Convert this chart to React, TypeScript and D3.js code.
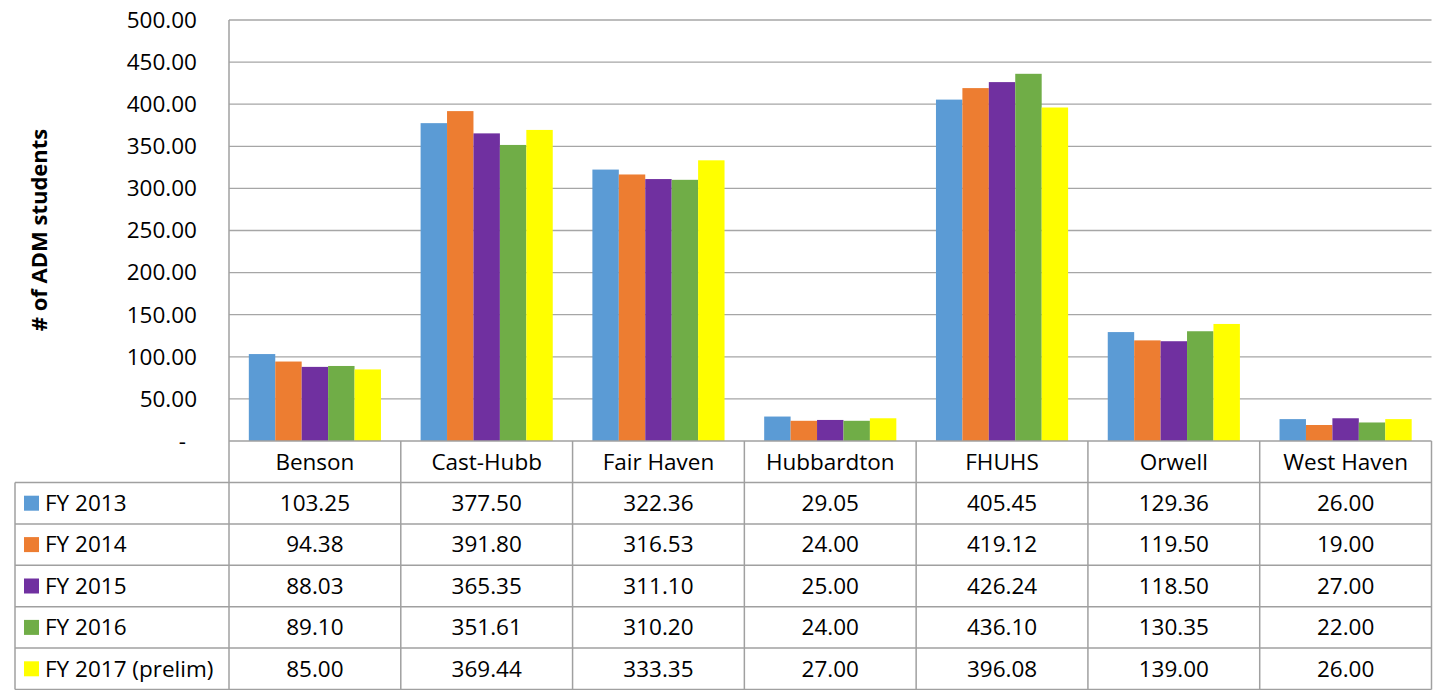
import React from "react";
import * as d3 from "d3";

const categories = ["Benson", "Cast-Hubb", "Fair Haven", "Hubbardton", "FHUHS", "Orwell", "West Haven"];
const seriesNames = ["FY 2013", "FY 2014", "FY 2015", "FY 2016", "FY 2017 (prelim)"];
const fy2013 = [103.25, 377.5, 322.36, 29.05, 405.45, 129.36, 26.0];
const fy2014 = [94.38, 391.8, 316.53, 24.0, 419.12, 119.5, 19.0];
const fy2015 = [88.03, 365.35, 311.1, 25.0, 426.24, 118.5, 27.0];
const fy2016 = [89.1, 351.61, 310.2, 24.0, 436.1, 130.35, 22.0];
const fy2017 = [85.0, 369.44, 333.35, 27.0, 396.08, 139.0, 26.0];
const seriesValues = [fy2013, fy2014, fy2015, fy2016, fy2017];
const colors = ["#5B9BD5", "#ED7D31", "#7030A0", "#70AD47", "#FFFF00"];
const yTicks = [0, 50, 100, 150, 200, 250, 300, 350, 400, 450, 500];
const yTickLabels = ["-", "50.00", "100.00", "150.00", "200.00", "250.00", "300.00", "350.00", "400.00", "450.00", "500.00"];
const axisTitle = "# of ADM students";

const W = 1439;
const H = 690;
const plotLeft = 229;
const plotRight = 1431.5;
const plotTop = 20;
const plotBottom = 441;
const tableLeft = 15;
const headerH = 41.5;
const rowH = 41.4;
const FONT = "'Open Sans', sans-serif";
const FS = 22.5;
const GRID = "#a6a6a6";
const BORDER = "#a0a0a0";

export default function App() {
  const x0 = d3.scaleBand<string>().domain(categories).range([plotLeft, plotRight]).paddingInner(0).paddingOuter(0);
  const x1 = d3.scaleBand<string>().domain(seriesNames).range([0, x0.bandwidth()]).paddingInner(0).paddingOuter(0.75);
  const y = d3.scaleLinear().domain([0, 500]).range([plotBottom, plotTop]);

  const rowTop = (i: number) => plotBottom + headerH + i * rowH;
  const tableBottom = rowTop(seriesNames.length);

  return (
    <svg width={W} height={H} style={{ position: "absolute", left: 0, top: 0, display: "block", background: "#fff" }} fontFamily={FONT}>
      {/* gridlines */}
      {yTicks.filter((t) => t > 0).map((t) => (
        <line key={t} x1={plotLeft} x2={plotRight} y1={y(t)} y2={y(t)} stroke={GRID} strokeWidth={1.3} />
      ))}
      {/* bars */}
      {seriesNames.map((s, si) =>
        categories.map((c, ci) => {
          const v = seriesValues[si][ci];
          return (
            <rect key={s + c} x={(x0(c) as number) + (x1(s) as number)} y={y(v)} width={x1.bandwidth()} height={y(0) - y(v)} fill={colors[si]} />
          );
        })
      )}
      {/* y tick labels */}
      {yTicks.map((t, i) => (
        <text key={t} x={t === 0 ? 186 : 197} y={y(t)} dy="0.35em" textAnchor="end" fontSize={FS} fill="#000">
          {yTickLabels[i]}
        </text>
      ))}
      {/* axis title */}
      <text transform={`translate(${39},${230}) rotate(-90)`} textAnchor="middle" dy="0.35em" fontSize={22} fontWeight="bold" fill="#000">
        {axisTitle}
      </text>
      {/* y axis line */}
      <line x1={plotLeft} x2={plotLeft} y1={plotTop} y2={tableBottom} stroke={BORDER} strokeWidth={1.5} />
      {/* x axis line / table top */}
      <line x1={plotLeft} x2={plotRight} y1={plotBottom} y2={plotBottom} stroke={BORDER} strokeWidth={1.5} />
      {/* table horizontal lines */}
      {d3.range(seriesNames.length + 1).map((i) => (
        <line key={"h" + i} x1={tableLeft} x2={plotRight} y1={rowTop(i)} y2={rowTop(i)} stroke={BORDER} strokeWidth={1.5} />
      ))}
      {/* table vertical lines */}
      <line x1={tableLeft} x2={tableLeft} y1={rowTop(0)} y2={tableBottom} stroke={BORDER} strokeWidth={1.5} />
      {categories.map((c) => (
        <line key={"v" + c} x1={(x0(c) as number) + x0.bandwidth()} x2={(x0(c) as number) + x0.bandwidth()} y1={plotBottom} y2={tableBottom} stroke={BORDER} strokeWidth={1.5} />
      ))}
      {/* header */}
      {categories.map((c) => (
        <text key={"hd" + c} x={(x0(c) as number) + x0.bandwidth() / 2} y={plotBottom + headerH / 2} dy="0.35em" textAnchor="middle" fontSize={FS} fill="#000">
          {c}
        </text>
      ))}
      {/* rows */}
      {seriesNames.map((s, si) => {
        const cy = rowTop(si) + rowH / 2;
        return (
          <g key={"r" + s}>
            <rect x={24} y={cy - 7.5} width={15} height={15} fill={colors[si]} />
            <text x={45} y={cy} dy="0.35em" fontSize={FS} fill="#000">
              {s}
            </text>
            {categories.map((c, ci) => (
              <text key={c} x={(x0(c) as number) + x0.bandwidth() / 2} y={cy} dy="0.35em" textAnchor="middle" fontSize={FS} fill="#000">
                {seriesValues[si][ci].toFixed(2)}
              </text>
            ))}
          </g>
        );
      })}
    </svg>
  );
}
